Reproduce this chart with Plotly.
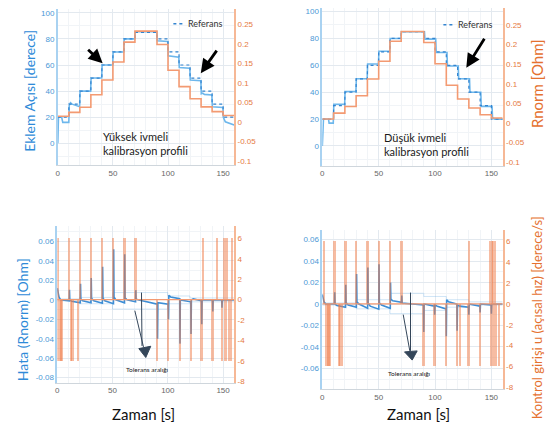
import plotly.graph_objects as go

W, H = 547, 431

# ---------------- data ----------------
step_t = [0, 10, 20, 30, 40, 50, 60, 70, 90, 100, 110, 120, 130, 140, 150, 160]
ref_angle = [20, 30, 40, 50, 60, 70, 80, 85, 80, 70, 60, 50, 40, 30, 20, 20]
tl_rnorm = [0.015, 0.025, 0.038, 0.07, 0.108, 0.154, 0.205, 0.233, 0.199, 0.133, 0.091, 0.06, 0.039, 0.027, 0.017, 0.017]
tr_rnorm = [0.01, 0.025, 0.042, 0.0695, 0.112, 0.157, 0.208, 0.233, 0.205, 0.151, 0.096, 0.061, 0.038, 0.021, 0.0126, 0.0126]

tl_angle_t = [0, 0.6, 3.5, 4.5, 10, 10.4, 11.5, 13, 19.8, 20.2, 29.8, 30.2, 39.8, 40.2, 49.8, 50.2, 59.8,
              60.2, 69.8, 70.2, 89.8, 90.2, 99.8, 100.2, 109.8, 110.2, 119.8, 120.2, 129.8, 130.2, 131.5,
              133, 139.8, 140.2, 149.8, 150.2, 152, 160]
tl_angle = [0, 20, 20, 16, 16, 29, 31, 30, 28, 40, 40, 50, 50, 60, 60, 70, 70,
            80, 80, 85.5, 85.5, 78.5, 78, 67, 66, 58, 57.5, 48.5, 48, 38, 38.5,
            37.5, 37, 28, 27.5, 20, 16.5, 14]

tr_angle_t = [0, 1, 5.5, 6, 9.7, 10.2, 19.8, 20.2, 29.8, 30.2, 39.8, 40.2, 49.8, 50.2, 59.8, 60.2, 69.8,
              70.2, 90.6, 91, 100.6, 101, 110.6, 111, 120.6, 121, 130.6, 131, 140.6, 141, 150.6, 151, 153, 160]
tr_angle = [0, 20, 20, 17, 17, 31, 31, 40.5, 40.5, 50, 50, 61, 61, 70.5, 70.5, 80, 80,
            85, 85, 79.5, 79.5, 69.5, 69.5, 59.5, 59.5, 50, 50, 40, 40, 29.5, 29.5, 21, 20, 20]

bl_err_t = [0, 1.5, 3, 10.8, 11, 11.3, 13, 20.8, 21, 21.3, 23, 30.5, 30.7, 31, 33, 40.8, 41, 41.3, 43, 50.8,
            51, 51.3, 53, 60.8, 61, 61.3, 63, 70.8, 71, 71.3, 73, 90.5, 90.7, 91, 100.4, 100.6, 100.9, 102.5,
            110.8, 111, 111.3, 120.8, 121, 121.3, 123, 130.5, 130.7, 131, 140.5, 140.7, 141, 148.8, 149,
            149.3, 160]
bl_err = [0.012, 0.003, 0.0, -0.001, 0.0105, 0.0, -0.0015, -0.003, 0.0165, 0.001, -0.001, -0.003, 0.0225,
          0.0015, -0.001, -0.0035, 0.034, 0.002, -0.001, -0.004, 0.052, 0.003, 0.0, -0.003, 0.047, 0.002,
          0.0, -0.002, 0.01, 0.001, 0.0, -0.0044, -0.04, -0.003, -0.0045, -0.02, 0.0047, 0.003, 0.0013,
          -0.045, 0.0, -0.002, -0.035, 0.0, 0.001, -0.001, -0.025, 0.0, 0.0, -0.012, 0.0, 0.0, -0.008,
          0.0, 0.0]

br_err_t = [0, 1.5, 3, 10.8, 11, 11.3, 13, 20.6, 20.8, 21.1, 23, 30.2, 30.4, 30.7, 32.5, 40.2, 40.4, 40.7, 42.5,
            50.1, 50.3, 50.6, 52.5, 60.3, 60.5, 60.8, 62.5, 70.3, 70.5, 70.8, 89.8, 90, 90.3, 99.5, 99.7,
            100, 102, 109.8, 110, 110.3, 112, 119.4, 119.6, 119.9, 122, 129.8, 130, 130.3, 139.8, 140, 140.3,
            149.8, 150, 150.3, 160]
br_err = [0.009, 0.002, 0.0, 0.0, 0.011, 0.0, -0.0015, -0.003, 0.018, 0.001, -0.001, -0.003, 0.028, 0.002,
          0.0, -0.004, 0.034, 0.001, -0.002, -0.0048, 0.037, 0.001, -0.001, -0.004, 0.02, 0.0046, 0.003,
          0.0015, 0.008, 0.001, -0.001, -0.026, 0.0, -0.002, -0.01, -0.001, -0.002, -0.0046, -0.03, 0.004,
          0.002, 0.0, -0.025, -0.001, -0.002, -0.003, -0.01, 0.0, -0.002, -0.008, 0.0, -0.001, -0.009,
          0.0, 0.0]

bl_u_up = [0.8, 11, 21, 30.7, 41, 51, 61, 71, 132, 144.5, 151.5, 153.5, 158]
bl_u_down = [0.8, 2.7, 3.6, 4.5, 13, 14, 18.7, 90.7, 100.6, 111, 121, 130.7, 140.7, 149, 152.5, 155.7, 157.5]
br_u_up = [1.5, 11, 20.8, 30.4, 40.4, 50.3, 60.5, 70.5, 130.4, 149, 150.5, 152, 153.5]
br_u_down = [4, 5, 6, 7.3, 15, 16, 17.5, 90, 99.7, 110, 119.6, 122.2, 130, 140, 150, 151.5, 154, 157]
u_amp = 6
u_base_t = [0, 160]
u_base = [0, 0]

bl_tol_t = [0, 20, 50, 100, 120, 160]
bl_tol_hi = [0.001, 0.0025, 0.0075, 0.004, 0.002, 0.002]
bl_tol_lo = [-0.001, -0.004, -0.0095, -0.004, -0.002, -0.002]
br_tol_t = [0, 30, 60, 90, 110, 130, 160]
br_tol_hi = [0.001, 0.004, 0.010, 0.007, 0.004, 0.002, 0.002]
br_tol_lo = [-0.001, -0.0045, -0.009, -0.006, -0.003, -0.001, -0.001]

x_ticks = [0, 50, 100, 150]
ang_ticks = [0, 20, 40, 60, 80, 100]
rn_ticks = [-0.1, -0.05, 0, 0.05, 0.1, 0.15, 0.2, 0.25]
rn_text = ["-0.1", "-0.05", "0", "0.05", "0.1", "0.15", "0.2", "0.25"]
err_ticks = [-0.08, -0.06, -0.04, -0.02, 0, 0.02, 0.04, 0.06]
err_text = ["-0.08", "-0.06", "-0.04", "-0.02", "0", "0.02", "0.04", "0.06"]
u_ticks = [-8, -6, -4, -2, 0, 2, 4, 6]
u_text = ["-8", "-6", "-4", "-2", "0", "2", "4", "6"]

# ---------------- styles ----------------
BLUE = "#6db7ec"
BLUE_D = "#3384d0"
ORANGE = "#f39a72"
ORANGE_BAR = "rgba(240,122,70,0.5)"
TOL = "rgba(120,180,230,0.35)"
TICKB = "#4a98d6"
TICKO = "#e67a42"
TFONT = "Liberation Sans"
LFONT = "Lato"


def px(x):
    return x / W


def py(y):
    return 1 - y / H


fig = go.Figure()

# top-left
fig.add_trace(go.Scatter(x=tl_angle_t, y=tl_angle, mode="lines", line=dict(color=BLUE, width=1.6),
                         xaxis="x", yaxis="y", showlegend=False))
fig.add_trace(go.Scatter(x=step_t, y=ref_angle, mode="lines", line=dict(color=BLUE_D, width=1.2, dash="dot", shape="hv"),
                         xaxis="x", yaxis="y", showlegend=False))
fig.add_trace(go.Scatter(x=step_t, y=tl_rnorm, mode="lines", line=dict(color=ORANGE, width=1.6, shape="hv"),
                         xaxis="x", yaxis="y2", showlegend=False))
# top-right
fig.add_trace(go.Scatter(x=tr_angle_t, y=tr_angle, mode="lines", line=dict(color=BLUE, width=1.6),
                         xaxis="x2", yaxis="y3", showlegend=False))
fig.add_trace(go.Scatter(x=step_t, y=ref_angle, mode="lines", line=dict(color=BLUE_D, width=1.2, dash="dot", shape="hv"),
                         xaxis="x2", yaxis="y3", showlegend=False))
fig.add_trace(go.Scatter(x=step_t, y=tr_rnorm, mode="lines", line=dict(color=ORANGE, width=1.6, shape="hv"),
                         xaxis="x2", yaxis="y4", showlegend=False))


def bottom(xa, ya, yb, tol_t, hi, lo, et, e, up, down):
    fig.add_trace(go.Scatter(x=tol_t, y=hi, mode="lines", line=dict(color=TOL, width=1, shape="hv"),
                             xaxis=xa, yaxis=ya, showlegend=False))
    fig.add_trace(go.Scatter(x=tol_t, y=lo, mode="lines", line=dict(color=TOL, width=1, shape="hv"),
                             xaxis=xa, yaxis=ya, showlegend=False))
    fig.add_trace(go.Scatter(x=et, y=e, mode="lines", line=dict(color="#3d8ed6", width=1.6),
                             xaxis=xa, yaxis=ya, showlegend=False))
    fig.add_trace(go.Scatter(x=u_base_t, y=u_base, mode="lines", line=dict(color=ORANGE, width=1.2),
                             xaxis=xa, yaxis=yb, showlegend=False))
    fig.add_trace(go.Bar(x=up + down, y=[u_amp] * len(up) + [-u_amp] * len(down), width=2.0,
                         marker=dict(color=ORANGE_BAR, line=dict(width=0)),
                         xaxis=xa, yaxis=yb, showlegend=False))


bottom("x3", "y5", "y6", bl_tol_t, bl_tol_hi, bl_tol_lo, bl_err_t, bl_err, bl_u_up, bl_u_down)
bottom("x4", "y7", "y8", br_tol_t, br_tol_hi, br_tol_lo, br_err_t, br_err, br_u_up, br_u_down)

GRID = "#e3e9ef"
MINOR = "#f1f4f7"


def xax(domain, anchor):
    return dict(domain=domain, anchor=anchor, range=[0, 160], tickvals=x_ticks, showgrid=True,
                gridcolor=GRID, minor=dict(dtick=10, showgrid=True, gridcolor=MINOR),
                showline=True, linecolor="#cfd6dc", linewidth=1, zeroline=False, ticks="",
                tickfont=dict(family=TFONT, size=8, color="#666"), fixedrange=True)


def yleft(domain, anchor, rng, tv, tt, minor):
    return dict(domain=domain, anchor=anchor, range=rng, tickvals=tv, ticktext=tt, showgrid=True,
                gridcolor=GRID, minor=dict(dtick=minor, showgrid=True, gridcolor=MINOR),
                showline=True, linecolor="#a9d2f1", linewidth=1.5, zeroline=False, ticks="",
                tickfont=dict(family=TFONT, size=8, color=TICKB))


def yright(overl, anchor, rng, tv, tt):
    return dict(overlaying=overl, anchor=anchor, side="right", range=rng, tickvals=tv, ticktext=tt,
                showgrid=False, showline=True, linecolor="#f6b896", linewidth=1.5, zeroline=False,
                ticks="", tickfont=dict(family=TFONT, size=8, color=TICKO))


dTLx = [px(56), px(233)]
dTLy = [py(166), py(8)]
dTRx = [px(321.5), px(502.5)]
dTRy = [py(166.7), py(7)]
dBLx = [px(55.5), px(233)]
dBLy = [py(386), py(228)]
dBRx = [px(321.5), px(502.5)]
dBRy = [py(392.7), py(231.7)]

fig.update_layout(
    width=W, height=H, margin=dict(l=0, r=0, t=0, b=0),
    paper_bgcolor="white", plot_bgcolor="white", barmode="overlay", bargap=0,
    xaxis=xax(dTLx, "y"),
    yaxis=yleft(dTLy, "x", [-16.7, 103], ang_ticks, [str(v) for v in ang_ticks], 10),
    yaxis2=yright("y", "x", [-0.110, 0.29], rn_ticks, rn_text),
    xaxis2=xax(dTRx, "y3"),
    yaxis3=yleft(dTRy, "x2", [-14.7, 102.7], ang_ticks, [str(v) for v in ang_ticks], 10),
    yaxis4=yright("y3", "x2", [-0.109, 0.293], rn_ticks, rn_text),
    xaxis3=xax(dBLx, "y5"),
    yaxis5=yleft(dBLy, "x3", [-0.085, 0.0756], err_ticks, err_text, 0.01),
    yaxis6=yright("y5", "x3", [-8.1, 7.16], u_ticks, u_text),
    xaxis4=xax(dBRx, "y7"),
    yaxis7=yleft(dBRy, "x4", [-0.0794, 0.069], err_ticks, err_text, 0.01),
    yaxis8=yright("y7", "x4", [-8.19, 7.1], u_ticks, u_text),
)

ann = []


def txt(x, y, s, size, color, angle=0, xa="center", ya="middle", family=LFONT, align="center"):
    ann.append(dict(x=px(x), y=py(y), xref="paper", yref="paper", text=s, showarrow=False,
                    textangle=angle, xanchor=xa, yanchor=ya, align=align,
                    font=dict(family=family, size=size, color=color)))


BT = "#2e8ad8"
OT = "#e5712f"
txt(28, 91, "Eklem Açısı [derece]", 14, BT, -90)
txt(537, 84, "Rnorm [Ohm]", 15, OT, -90)
txt(20, 322, "Hata (Rnorm) [Ohm]", 14, BT, -90)
txt(537, 321, "Kontrol girişi u (açısal hız) [derece/s]", 13, OT, -90)
txt(142, 418, "Zaman [s]", 15, "#111")
txt(418, 418, "Zaman [s]", 15, "#111")
txt(99, 144, "Yüksek ivmeli<br>kalibrasyon profili", 11, "#1a1a1a", xa="left", align="left")
txt(381, 145, "Düşük ivmeli<br>kalibrasyon profili", 11, "#1a1a1a", xa="left", align="left")
txt(185, 23, "Referans", 9, "#333", xa="left")
txt(456, 24, "Referans", 9, "#333", xa="left")
txt(146, 373, "Tolerans aralığı", 6.5, "#222")
txt(409, 377, "Tolerans aralığı", 6.5, "#222")


def arrow(tx, ty, hx, hy):
    ann.append(dict(x=px(hx), y=py(hy), xref="paper", yref="paper", ax=tx - hx, ay=ty - hy,
                    showarrow=True, arrowhead=2, arrowsize=1, arrowwidth=2.8, arrowcolor="black", text=""))


arrow(85, 48, 101, 63)
arrow(216.5, 49, 199.5, 73)
arrow(485, 37, 466, 67.5)
fig.update_layout(annotations=ann)

shapes = []


def seg(x0, y0, x1, y1, color, width, dash="solid"):
    shapes.append(dict(type="line", xref="paper", yref="paper", x0=px(x0), y0=py(y0), x1=px(x1), y1=py(y1),
                       line=dict(color=color, width=width, dash=dash)))


def tri(pts, color):
    d = "M " + " L ".join(f"{px(a):.5f},{py(b):.5f}" for a, b in pts) + " Z"
    shapes.append(dict(type="path", xref="paper", yref="paper", path=d, fillcolor=color,
                       line=dict(color=color, width=1)))


seg(172, 23, 183, 23, BLUE_D, 1.4, "dot")
seg(443, 24, 453, 24, BLUE_D, 1.4, "dot")
AC = "#34465a"
seg(140, 295, 140.5, 349, AC, 1)
seg(133.3, 313.3, 142, 350, AC, 1)
tri([(137.3, 351.7), (149.3, 349.3), (144.3, 360.7)], AC)
seg(410, 295, 410, 354, AC, 1)
seg(402.7, 317.3, 409.3, 354, AC, 1)
tri([(404, 355), (416.7, 354), (411.7, 363.3)], AC)
fig.update_layout(shapes=shapes)

fig.write_html("out.html")
